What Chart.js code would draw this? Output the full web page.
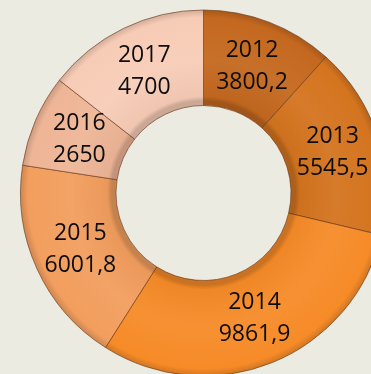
<!DOCTYPE html>
<html>
<head>
<meta charset="utf-8">
<script src="https://cdn.jsdelivr.net/npm/chart.js@4"></script>
<style>
  html, body {
    margin: 0;
    padding: 0;
    width: 371px;
    height: 374px;
    overflow: hidden;
    background: #ecebe2;
  }
  #wrap {
    position: absolute;
    left: 0;
    top: 0;
  }
</style>
</head>
<body>
<div id="wrap"><canvas id="years-doughnut" width="407" height="386"></canvas></div>
<script>
// Data
const years = ["2012", "2013", "2014", "2015", "2016", "2017"];
const amounts = [3800.2, 5545.5, 9861.9, 6001.8, 2650, 4700];
const sliceColors = ["#c4681f", "#d4741f", "#f68b28", "#f29e5e", "#eeb596", "#f7ccb6"];

const OUTER = 183;
const INNER = 92;

// Helper Functions
const toCommaDecimal = (value) => String(value).replace(".", ",");

const shade = (hex, amount) => {
  const n = parseInt(hex.slice(1), 16);
  const mix = (c) => {
    const v = amount < 0 ? c * (1 + amount) : c + (255 - c) * amount;
    return Math.round(Math.max(0, Math.min(255, v)));
  };
  const r = mix((n >> 16) & 255);
  const g = mix((n >> 8) & 255);
  const b = mix(n & 255);
  return `rgb(${r},${g},${b})`;
};

// ring shading: darker rim on both edges, lighter through the middle
const ringGradient = (context) => {
  const base = sliceColors[context.dataIndex];
  const chart = context.chart;
  const area = chart.chartArea;
  if (!area) return base;
  const cx = (area.left + area.right) / 2;
  const cy = (area.top + area.bottom) / 2;
  const g = chart.ctx.createRadialGradient(cx, cy, INNER, cx, cy, OUTER);
  g.addColorStop(0, shade(base, -0.18));
  g.addColorStop(0.05, shade(base, -0.03));
  g.addColorStop(0.45, shade(base, 0.05));
  g.addColorStop(0.92, base);
  g.addColorStop(1, shade(base, -0.15));
  return g;
};

// Labels drawn in the middle of each slice
const sliceLabels = {
  id: "sliceLabels",
  afterDatasetsDraw(chart) {
    const ctx = chart.ctx;
    const meta = chart.getDatasetMeta(0);
    ctx.save();
    ctx.font = "23px 'Open Sans', sans-serif";
    ctx.fillStyle = "#0d0d0d";
    ctx.textAlign = "center";
    ctx.textBaseline = "middle";
    meta.data.forEach((arc, i) => {
      const p = arc.tooltipPosition();
      ctx.fillText(years[i], p.x, p.y - 16);
      ctx.fillText(toCommaDecimal(amounts[i]), p.x, p.y + 16);
    });
    ctx.restore();
  },
};

const canvas = document.getElementById("years-doughnut");
new Chart(canvas, {
  type: "doughnut",
  data: {
    labels: years,
    datasets: [
      {
        data: amounts,
        backgroundColor: ringGradient,
        borderColor: "rgba(100,52,22,0.6)",
        borderWidth: 1,
        hoverOffset: 0,
      },
    ],
  },
  options: {
    responsive: false,
    animation: false,
    radius: OUTER,
    cutout: INNER,
    layout: { padding: 0 },
    plugins: {
      legend: { display: false },
      tooltip: { enabled: false },
    },
  },
  plugins: [sliceLabels],
});
</script>
</body>
</html>
